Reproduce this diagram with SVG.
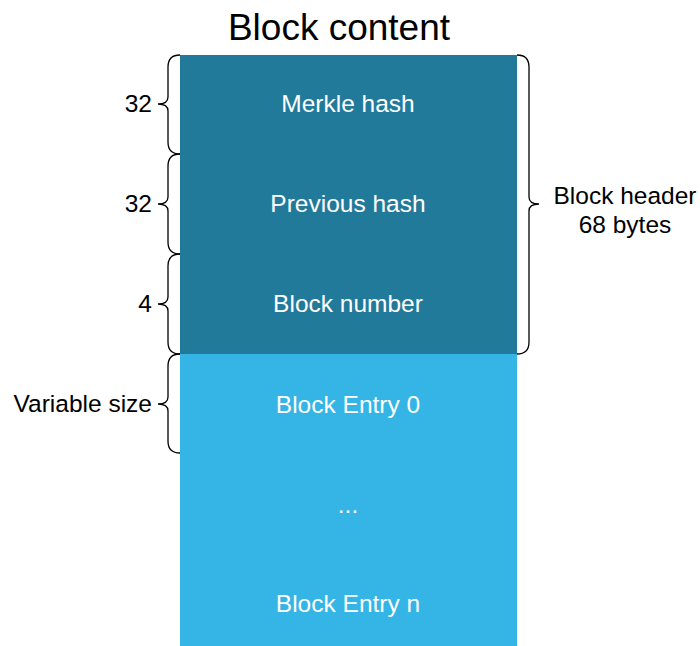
<svg xmlns="http://www.w3.org/2000/svg" width="700" height="646" viewBox="0 0 700 646">
  <style>
    .lbl { font-family: "Liberation Sans", Arial, sans-serif; font-size: 24.5px; }
    .in { fill: #ffffff; text-anchor: middle; }
    .side { fill: #000000; text-anchor: end; }
    .brace { fill: none; stroke: #000000; stroke-width: 1.3; }
    .hdr { fill: #227A9B; }
    .body { fill: #35B5E5; }
  </style>
  <rect width="700" height="646" fill="#ffffff"/>
  <text x="339" y="40" text-anchor="middle" font-family="Liberation Sans, Arial, sans-serif" font-size="37">Block content</text>

  <g id="merkle-hash">
    <rect class="hdr" x="180" y="55" width="337" height="100"/>
    <text class="lbl in" x="348" y="112">Merkle hash</text>
  </g>
  <g id="previous-hash">
    <rect class="hdr" x="180" y="154" width="337" height="101"/>
    <text class="lbl in" x="348" y="212">Previous hash</text>
  </g>
  <g id="block-number">
    <rect class="hdr" x="180" y="254" width="337" height="100"/>
    <text class="lbl in" x="348" y="312">Block number</text>
  </g>
  <g id="block-entries">
    <rect class="body" x="180" y="354" width="337" height="292"/>
    <text class="lbl in" x="348" y="413">Block Entry 0</text>
    <text class="lbl in" x="348" y="513">...</text>
    <text class="lbl in" x="348" y="612">Block Entry n</text>
  </g>

  <g id="braces">
    <path class="brace" d="M180,55 Q168,55 168,67 L168,97 Q168,104 158,104 Q168,104 168,111 L168,142 Q168,154 180,154"/>
    <path class="brace" d="M180,154 Q168,154 168,166 L168,197 Q168,204 158,204 Q168,204 168,211 L168,242 Q168,254 180,254"/>
    <path class="brace" d="M180,254 Q168,254 168,266 L168,297 Q168,304 158,304 Q168,304 168,311 L168,342 Q168,354 180,354"/>
    <path class="brace" d="M180,354 Q168,354 168,366 L168,397 Q168,404 158,404 Q168,404 168,411 L168,441 Q168,453 180,453"/>
    <path class="brace" d="M517,55 Q529,55 529,67 L529,197 Q529,204 539,204 Q529,204 529,211 L529,342 Q529,354 517,354"/>
  </g>

  <g id="sizes">
    <text class="lbl side" x="152" y="112">32</text>
    <text class="lbl side" x="152" y="212">32</text>
    <text class="lbl side" x="152" y="312">4</text>
    <text class="lbl side" x="152" y="412">Variable size</text>
    <text class="lbl" x="625" y="204" text-anchor="middle">Block header</text>
    <text class="lbl" x="625" y="233" text-anchor="middle">68 bytes</text>
  </g>
</svg>
